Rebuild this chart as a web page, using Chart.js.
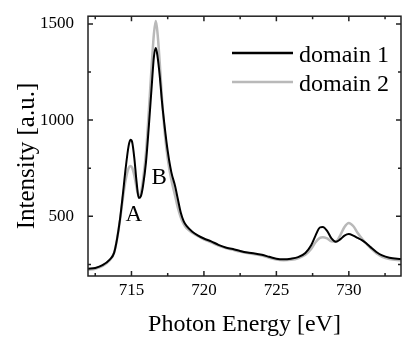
<!DOCTYPE html>
<html>
<head>
<meta charset="utf-8">
<script src="https://cdn.jsdelivr.net/npm/chart.js@4/dist/chart.umd.min.js"></script>
<style>
  html, body { margin: 0; padding: 0; background: #fff; }
  #wrap { width: 402px; height: 347px; }
</style>
</head>
<body>
<div id="wrap"><canvas id="grafica"></canvas></div>
<script>
// energias [eV]
var energia = [
  712.0, 712.5, 713.0, 713.5, 713.8, 714.0, 714.2, 714.4, 714.6, 714.8,
  714.93, 715.05, 715.2, 715.35, 715.5, 715.65, 715.8, 716.0, 716.2, 716.4,
  716.55, 716.68, 716.8, 716.95, 717.1, 717.3, 717.5, 717.75, 718.0, 718.2,
  718.4, 718.6, 718.8, 719.2, 719.6, 720.0, 720.5, 721.0, 721.5, 722.0,
  722.5, 723.0, 723.5, 724.0, 724.5, 725.0, 725.5, 726.0, 726.5, 727.0,
  727.4, 727.7, 728.0, 728.2, 728.5, 728.8, 729.1, 729.4, 729.7, 730.0,
  730.3, 730.6, 730.9, 731.2, 731.5, 731.9, 732.3, 732.8, 733.6
];

var dominio1 = [
  228, 232, 246, 275, 310, 380, 480, 610, 750, 865,
  898, 885, 800, 680, 595, 605, 660, 780, 970, 1180,
  1330, 1375, 1330, 1230, 1100, 960, 840, 730, 660, 590,
  520, 475, 450, 420, 400, 385, 370, 352, 338, 330,
  320, 312, 307, 300, 290, 280, 277, 280, 288, 310,
  350, 400, 442, 445, 425, 385, 368, 380, 400, 408,
  400, 388, 376, 360, 340, 315, 297, 285, 278
];

var dominio2 = [
  222, 228, 242, 272, 310, 380, 475, 590, 690, 750,
  762, 752, 710, 650, 605, 620, 690, 830, 1050, 1290,
  1450, 1515, 1450, 1300, 1120, 930, 800, 690, 610, 545,
  495, 460, 438, 415, 397, 380, 365, 348, 335, 326,
  317, 309, 303, 296, 285, 275, 272, 274, 282, 300,
  330, 365, 388, 392, 385, 370, 368, 400, 445, 466,
  450, 415, 385, 358, 335, 308, 290, 278, 272
];

var nombres = ["domain 1", "domain 2"];
var colores = ["#000000", "#b9b9b9"];

var ticksX = [715, 720, 725, 730];
var menoresX = [712.5, 717.5, 722.5, 727.5, 732.5];
var ticksY = [500, 1000, 1500];
var menoresY = [250, 750, 1250];

// etiquetas de los picos
var picos = ["A", "B"];
var picosE = [715.16, 716.92];
var picosI = [475, 669];

var tituloY = "Intensity [a.u.]";
var fuente = "'Liberation Serif', 'Times New Roman', serif";

function serie(ys) {
  var arr = [];
  for (var i = 0; i < energia.length; i++) {
    arr.push({ x: energia[i], y: ys[i] });
  }
  return arr;
}

// marco con ticks hacia adentro, leyenda, letras y titulo Y
var marco = {
  id: "marco",
  afterDatasetsDraw: function (chart) {
    var c = chart.ctx;
    var a = chart.chartArea;
    var sx = chart.scales.x;
    var sy = chart.scales.y;
    c.save();
    c.strokeStyle = "#222";
    c.lineWidth = 1.5;
    c.strokeRect(a.left, a.top, a.right - a.left, a.bottom - a.top);

    function tickX(v, len) {
      var px = sx.getPixelForValue(v);
      c.beginPath();
      c.moveTo(px, a.bottom); c.lineTo(px, a.bottom - len);
      c.moveTo(px, a.top); c.lineTo(px, a.top + len);
      c.stroke();
    }
    function tickY(v, len) {
      var py = sy.getPixelForValue(v);
      c.beginPath();
      c.moveTo(a.left, py); c.lineTo(a.left + len, py);
      c.moveTo(a.right, py); c.lineTo(a.right - len, py);
      c.stroke();
    }
    ticksX.forEach(function (v) { tickX(v, 5); });
    menoresX.forEach(function (v) { tickX(v, 3); });
    ticksY.forEach(function (v) { tickY(v, 5); });
    menoresY.forEach(function (v) { tickY(v, 3); });

    // leyenda
    c.font = "24px " + fuente;
    c.textAlign = "left";
    c.textBaseline = "alphabetic";
    for (var i = 0; i < nombres.length; i++) {
      var yy = 53 + i * 29;
      c.strokeStyle = colores[i];
      c.lineWidth = 2.5;
      c.beginPath();
      c.moveTo(232, yy); c.lineTo(293, yy);
      c.stroke();
      c.fillStyle = "#000";
      c.fillText(nombres[i], 299, yy + 9);
    }

    // A y B
    c.textAlign = "center";
    c.font = "23px " + fuente;
    for (var j = 0; j < picos.length; j++) {
      c.fillText(picos[j], sx.getPixelForValue(picosE[j]), sy.getPixelForValue(picosI[j]));
    }

    // titulo del eje Y
    c.translate(27, 156);
    c.rotate(-Math.PI / 2);
    c.font = "25px " + fuente;
    c.textBaseline = "middle";
    c.fillText(tituloY, 0, 0);
    c.restore();
  }
};

var ctx = document.getElementById("grafica").getContext("2d");

window.miGrafica = new Chart(ctx, {
  type: "line",
  data: {
    datasets: [
      {
        label: nombres[0],
        data: serie(dominio1),
        borderColor: colores[0],
        borderWidth: 2,
        pointRadius: 0,
        cubicInterpolationMode: "monotone",
        fill: false
      },
      {
        label: nombres[1],
        data: serie(dominio2),
        borderColor: colores[1],
        borderWidth: 2.5,
        pointRadius: 0,
        cubicInterpolationMode: "monotone",
        fill: false
      }
    ]
  },
  options: {
    responsive: true,
    maintainAspectRatio: false,
    animation: false,
    layout: { padding: { top: 10, right: 1, left: 0, bottom: 0 } },
    plugins: {
      legend: { display: false },
      tooltip: { enabled: false }
    },
    scales: {
      x: {
        type: "linear",
        min: 712,
        max: 733.6,
        grid: { display: false },
        border: { display: false },
        afterBuildTicks: function (s) {
          s.ticks = ticksX.map(function (v) { return { value: v }; });
        },
        afterFit: function (s) { s.height = 71; },
        ticks: {
          color: "#000",
          padding: -4,
          maxRotation: 0,
          font: { family: fuente, size: 17 },
          callback: function (v) { return String(v); }
        },
        title: {
          display: true,
          text: "Photon Energy [eV]",
          color: "#000",
          padding: { top: 0, bottom: 8 },
          font: { family: fuente, size: 24 }
        }
      },
      y: {
        min: 190,
        max: 1540,
        grid: { display: false },
        border: { display: false },
        afterBuildTicks: function (s) {
          s.ticks = ticksY.map(function (v) { return { value: v }; });
        },
        afterFit: function (s) { s.width = 88; },
        ticks: {
          color: "#000",
          padding: 6,
          font: { family: fuente, size: 17 },
          callback: function (v) { return String(v); }
        }
      }
    }
  },
  plugins: [marco]
});
</script>
</body>
</html>
